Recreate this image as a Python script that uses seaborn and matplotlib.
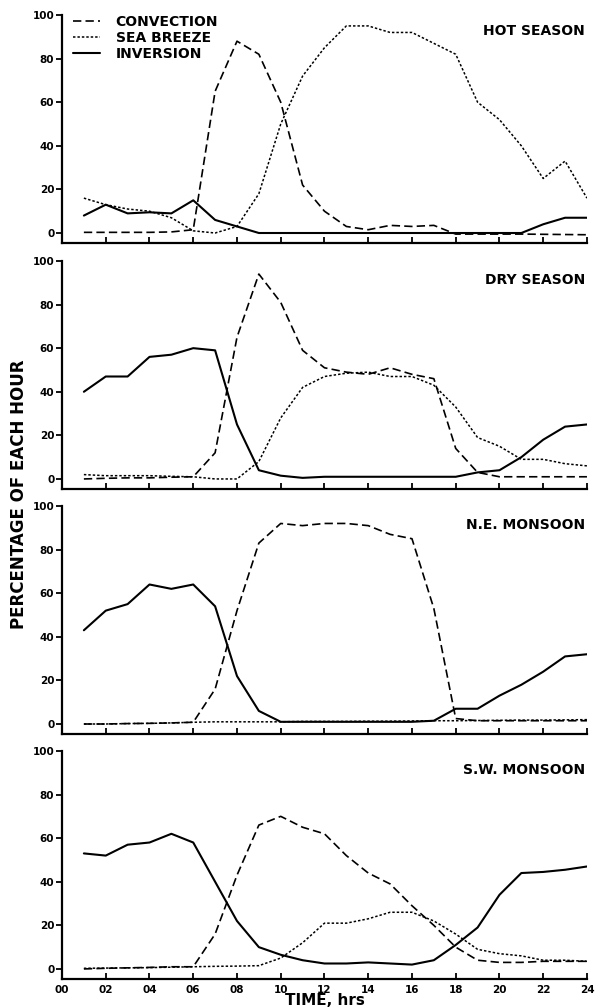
import matplotlib
matplotlib.use("Agg")
import pandas as pd
import seaborn as sns
import matplotlib.pyplot as plt

sns.set_style("ticks")
plt.rcParams["font.family"] = ["DejaVu Sans"]
plt.rcParams["font.weight"] = "bold"
for key in ["text.color", "axes.labelcolor", "xtick.color", "ytick.color",
            "axes.edgecolor"]:
    plt.rcParams[key] = "black"

# ------ data (percentage of each hour) ------ #
hours = list(range(1, 25))
kinds = ["CONVECTION", "SEA BREEZE", "INVERSION"]
seasons = ["HOT SEASON", "DRY SEASON", "N.E. MONSOON", "S.W. MONSOON"]

hot_convection = [0.3, 0.3, 0.3, 0.3, 0.5, 1.5, 65, 88, 82, 60, 22, 10,
                  3, 1.5, 3.5, 3, 3.5, -0.5, -0.5, -0.5, -0.5, -0.6, -0.7, -0.8]
hot_sea_breeze = [16, 13, 11, 10, 7, 1, 0, 3, 18, 50, 72, 85,
                  95, 95, 92, 92, 87, 82, 60, 52, 40, 25, 33, 16]
hot_inversion = [8, 13, 9, 9.5, 9, 15, 6, 3, 0, 0, 0, 0,
                 0, 0, 0, 0, 0, 0, 0, 0, 0, 4, 7, 7]

dry_convection = [0, 0.3, 0.5, 0.5, 0.8, 1, 12, 65, 94, 81, 59, 51,
                  49, 48, 51, 48, 46, 14, 3, 1, 1, 1, 1, 1]
dry_sea_breeze = [2, 1.5, 1.5, 1.5, 1.2, 1, 0, 0, 8, 28, 42, 47,
                  48.5, 49, 47, 47, 43, 33, 19, 15, 9, 9, 7, 6]
dry_inversion = [40, 47, 47, 56, 57, 60, 59, 25, 4, 1.5, 0.5, 1,
                 1, 1, 1, 1, 1, 1, 3, 4, 10, 18, 24, 25]

ne_convection = [0, 0, 0.2, 0.3, 0.5, 0.8, 16, 52, 83, 92, 91, 92,
                 92, 91, 87, 85, 53, 2.5, 1.5, 1.5, 1.5, 1.5, 1.5, 1.5]
ne_sea_breeze = [0, 0, 0.2, 0.3, 0.5, 0.8, 1, 1, 1, 1, 1.2, 1.2,
                 1.2, 1.3, 1.3, 1.4, 1.5, 1.5, 1.6, 1.7, 1.8, 1.8, 1.9, 2]
ne_inversion = [43, 52, 55, 64, 62, 64, 54, 22, 6, 1, 1, 1,
                1, 1, 1, 1, 1.5, 7, 7, 13, 18, 24, 31, 32]

sw_convection = [0, 0.3, 0.5, 0.7, 1, 1, 16, 43, 66, 70, 65, 62,
                 52, 44, 39, 29, 20, 10, 4, 3, 3, 3.5, 3.5, 3.5]
sw_sea_breeze = [0.3, 0.4, 0.5, 0.6, 0.8, 1, 1.2, 1.3, 1.5, 5, 12, 21,
                 21, 23, 26, 26, 22, 16, 9, 7, 6, 4, 4, 3.5]
sw_inversion = [53, 52, 57, 58, 62, 58, 40, 22, 10, 6.5, 4, 2.5,
                2.5, 3, 2.5, 2, 4, 11, 19, 34, 44, 44.5, 45.5, 47]

panel_series = [
    (hot_convection, hot_sea_breeze, hot_inversion),
    (dry_convection, dry_sea_breeze, dry_inversion),
    (ne_convection, ne_sea_breeze, ne_inversion),
    (sw_convection, sw_sea_breeze, sw_inversion),
]
y_ticks = [0, 20, 40, 60, 80, 100]
x_ticks = list(range(0, 25, 2))
x_tick_labels = ["%02d" % h for h in x_ticks]

# ------ styles ------ #
dash_map = {"CONVECTION": (5, 2.5), "SEA BREEZE": (1.6, 1.3), "INVERSION": ""}
width_map = {"CONVECTION": 1.2, "SEA BREEZE": 1.1, "INVERSION": 1.5}

fig = plt.figure(figsize=(6.02, 10.08), dpi=100, facecolor="w")
bottoms = [0.7589, 0.5149, 0.2718, 0.0288]

for i, (season, series) in enumerate(zip(seasons, panel_series)):
    ax = fig.add_axes([0.103, bottoms[i], 0.872, 0.2262])
    df = pd.DataFrame({
        "hour": hours * 3,
        "pct": [v for s in series for v in s],
        "kind": [k for k in kinds for _ in hours],
    })
    sns.lineplot(
        data=df, x="hour", y="pct", style="kind", style_order=kinds,
        dashes=dash_map, color="black", errorbar=None, legend=False, ax=ax
    )
    for line, k in zip(ax.get_lines(), kinds):
        line.set_linewidth(width_map[k])

    ax.set_xlim(0, 24)
    ax.set_ylim(-4.6, 100)
    sns.despine(ax=ax)
    for side in ["left", "bottom"]:
        ax.spines[side].set_linewidth(1.6)
        ax.spines[side].set_color("black")
    ax.set_yticks(y_ticks)
    ax.set_xticks(x_ticks)
    ax.tick_params(axis="y", direction="out", length=4, width=1.3,
                   labelsize=7.5, pad=1.5, colors="black")
    ax.tick_params(axis="x", direction="in", length=4, width=1.3,
                   labelsize=7.5, pad=4, colors="black")
    for lab in ax.get_yticklabels():
        lab.set_fontweight("bold")
    if i == len(seasons) - 1:
        ax.set_xticklabels(x_tick_labels, fontweight="bold")
    else:
        ax.set_xticklabels([])
    ax.set_xlabel("")
    ax.set_ylabel("")

    ax.text(0.996, 0.93 if i == 0 else 0.915, season, transform=ax.transAxes,
            ha="right", va="center", fontsize=10, fontweight="bold",
            color="black")

    if i == 0:
        leg = ax.legend(
            ax.get_lines(), kinds, loc="upper left",
            bbox_to_anchor=(0.02, 1.0), frameon=False, borderpad=0,
            borderaxespad=0, handlelength=2.0, handletextpad=1.1,
            labelspacing=0.15, prop={"size": 10, "weight": "bold"}
        )
        for t in leg.get_texts():
            t.set_color("black")

fig.text(0.031, 0.51, "PERCENTAGE OF EACH HOUR", rotation=90,
         ha="center", va="center", fontsize=12, fontweight="bold",
         color="black")
fig.text(0.54, 0.0075, "TIME, hrs", ha="center", va="center",
         fontsize=11, fontweight="bold", color="black")

plt.savefig("out.png", dpi=100)
